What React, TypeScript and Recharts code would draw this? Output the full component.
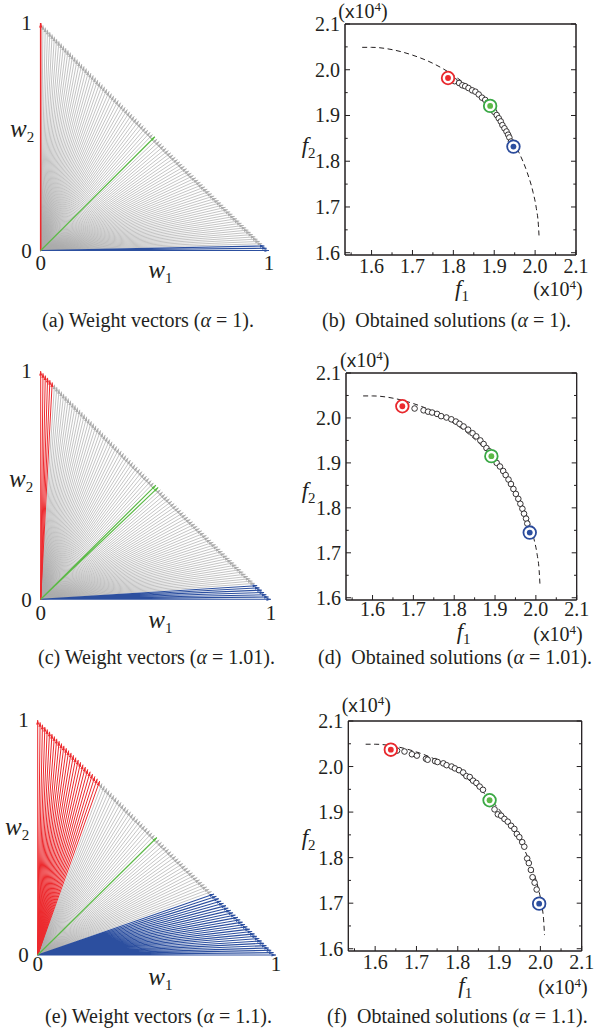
import React from 'react';
import { ComposedChart, Line, Scatter, XAxis, YAxis, ReferenceArea } from 'recharts';

const SERIF = "'Liberation Serif','Times New Roman',Times,serif";
const INK = '#231f20';

// ---------- weight vectors ----------
const W1 = [
  0.0, 0.01, 0.02, 0.03, 0.04, 0.05, 0.06, 0.07, 0.08, 0.09,
  0.1, 0.11, 0.12, 0.13, 0.14, 0.15, 0.16, 0.17, 0.18, 0.19,
  0.2, 0.21, 0.22, 0.23, 0.24, 0.25, 0.26, 0.27, 0.28, 0.29,
  0.3, 0.31, 0.32, 0.33, 0.34, 0.35, 0.36, 0.37, 0.38, 0.39,
  0.4, 0.41, 0.42, 0.43, 0.44, 0.45, 0.46, 0.47, 0.48, 0.49,
  0.5, 0.51, 0.52, 0.53, 0.54, 0.55, 0.56, 0.57, 0.58, 0.59,
  0.6, 0.61, 0.62, 0.63, 0.64, 0.65, 0.66, 0.67, 0.68, 0.69,
  0.7, 0.71, 0.72, 0.73, 0.74, 0.75, 0.76, 0.77, 0.78, 0.79,
  0.8, 0.81, 0.82, 0.83, 0.84, 0.85, 0.86, 0.87, 0.88, 0.89,
  0.9, 0.91, 0.92, 0.93, 0.94, 0.95, 0.96, 0.97, 0.98, 0.99,
  1.0,
];
const ALPHA_LABELS = ['1', '1.01', '1.1'];
const RED_MAX_W1 = [0.0, 0.05, 0.26];
const BLUE_MIN_W1 = [0.98, 0.94, 0.74];
const GREEN_W1 = [[0.5], [0.5, 0.51], [0.5]];
const WV_TICKS = [0, 1];

// ---------- Pareto front (x10^4) ----------
const FRONT_F1 = [1.577, 1.6, 1.65, 1.7, 1.75, 1.8, 1.85, 1.9, 1.93, 1.96, 1.98, 1.995, 2.003, 2.008, 2.01];
const FRONT_F2 = [2.049, 2.049, 2.044, 2.032, 2.014, 1.988, 1.953, 1.906, 1.869, 1.82, 1.777, 1.732, 1.697, 1.661, 1.63];

// obtained solutions
const SOL_B_F1 = [1.795, 1.803, 1.814, 1.822, 1.829, 1.837, 1.846, 1.854, 1.862, 1.87, 1.878, 1.884, 1.895, 1.9, 1.906, 1.911, 1.916, 1.92, 1.925, 1.93, 1.934, 1.937, 1.941];
const SOL_B_F2 = [1.979, 1.975, 1.971, 1.966, 1.964, 1.96, 1.955, 1.952, 1.946, 1.939, 1.934, 1.928, 1.914, 1.908, 1.901, 1.894, 1.887, 1.879, 1.872, 1.865, 1.858, 1.852, 1.843];
const SOL_D_F1 = [1.703, 1.725, 1.736, 1.746, 1.758, 1.768, 1.781, 1.793, 1.804, 1.813, 1.823, 1.834, 1.845, 1.854, 1.864, 1.872, 1.879, 1.886, 1.904, 1.912, 1.92, 1.926, 1.933, 1.939, 1.945, 1.951, 1.957, 1.962, 1.967, 1.971, 1.976, 1.979];
const SOL_D_F2 = [2.021, 2.017, 2.014, 2.012, 2.009, 2.004, 2.001, 1.997, 1.992, 1.987, 1.981, 1.974, 1.966, 1.959, 1.95, 1.942, 1.933, 1.926, 1.9, 1.892, 1.882, 1.873, 1.863, 1.853, 1.842, 1.831, 1.82, 1.809, 1.798, 1.787, 1.776, 1.765];
const SOL_F_F1 = [1.653, 1.671, 1.689, 1.701, 1.723, 1.727, 1.745, 1.751, 1.765, 1.773, 1.785, 1.793, 1.803, 1.813, 1.821, 1.829, 1.837, 1.845, 1.853, 1.861, 1.889, 1.897, 1.905, 1.913, 1.921, 1.929, 1.937, 1.943, 1.949, 1.956, 1.961, 1.968, 1.972, 1.977, 1.981, 1.986, 1.991];
const SOL_F_F2 = [2.035, 2.033, 2.027, 2.024, 2.017, 2.015, 2.012, 2.01, 2.007, 2.003, 2.0, 1.996, 1.992, 1.987, 1.979, 1.977, 1.969, 1.964, 1.956, 1.949, 1.906, 1.895, 1.892, 1.885, 1.879, 1.87, 1.863, 1.852, 1.845, 1.834, 1.824, 1.798, 1.788, 1.773, 1.757, 1.745, 1.73];

// selected solutions: [red, green, blue]
const SEL_B_F1 = [1.787, 1.89, 1.947];
const SEL_B_F2 = [1.982, 1.921, 1.832];
const SEL_D_F1 = [1.673, 1.891, 1.985];
const SEL_D_F2 = [2.026, 1.915, 1.745];
const SEL_F_F1 = [1.638, 1.877, 1.997];
const SEL_F_F2 = [2.037, 1.926, 1.699];

const F1_TICKS = [1.55, 1.6, 1.65, 1.7, 1.75, 1.8, 1.85, 1.9, 1.95, 2.0, 2.05, 2.1];
const F2_TICKS = [1.6, 1.65, 1.7, 1.75, 1.8, 1.85, 1.9, 1.95, 2.0, 2.05, 2.1];
const F1_DOMAIN = [1.535, 2.1];
const F2_DOMAIN = [1.595, 2.1];

const COLORS = { red: '#ec2a2e', green: '#5cb947', blue: '#2c4f9f', gray: '#aaaaaa' };
const RING = { red: '#e8282d', green: '#3aa845', blue: '#2b4b9b' };

// ---------- helpers ----------
const zipXY = (xs: number[], ys: number[]) => xs.map((x, i) => ({ x, y: ys[i] }));

function vectorTable(list: number[]) {
  const rows: any[] = [];
  list.forEach((w) => {
    rows.push({ x: 0, y: 0 });
    rows.push({ x: w, y: +(1 - w).toFixed(2), tip: true });
    rows.push({ x: w, y: null });
  });
  return rows;
}

const isMajor = (v: number) => Math.abs(v * 10 - Math.round(v * 10)) < 1e-6;

type Orient = 'bottom' | 'left' | 'top' | 'right';
function axisTick(orient: Orient, margin: number, labels: boolean, lines: boolean, fontSize: number, decimals: number) {
  return (props: any) => {
    const x = Number(props.x);
    const y = Number(props.y);
    const { payload, index } = props;
    const v = Number(payload.value);
    const major = isMajor(v);
    const len = major ? 5 : 2.7;
    let ax = x;
    let ay = y;
    if (orient === 'bottom') ay = y - margin;
    if (orient === 'top') ay = y + margin;
    if (orient === 'left') ax = x + margin;
    if (orient === 'right') ax = x - margin;
    let d = '';
    if (lines) {
      if (orient === 'bottom') d = `M${ax},${ay}L${ax},${ay - len}`;
      if (orient === 'top') d = `M${ax},${ay}L${ax},${ay + len}`;
      if (orient === 'left') d = `M${ax},${ay}L${ax + len},${ay}`;
      if (orient === 'right') d = `M${ax},${ay}L${ax - len},${ay}`;
    }
    let label = null;
    if (labels && major) {
      const txt = v.toFixed(decimals);
      if (orient === 'bottom')
        label = (
          <text x={x} y={y} dy="0.71em" textAnchor="middle" fontFamily={SERIF} fontSize={fontSize} fill={INK}>
            {txt}
          </text>
        );
      if (orient === 'left')
        label = (
          <text x={x} y={y} dy="0.35em" textAnchor="end" fontFamily={SERIF} fontSize={fontSize} fill={INK}>
            {txt}
          </text>
        );
    }
    return (
      <g key={`t-${orient}-${index}`}>
        {d ? <path d={d} stroke={INK} strokeWidth={1} fill="none" /> : null}
        {label}
      </g>
    );
  };
}

function arrowDot(color: string, len: number, half: number) {
  return (props: any) => {
    const { cx, cy, payload, index } = props;
    if (!payload || !payload.tip || cx == null || cy == null) return <g key={`n${index}`} />;
    const ang = Math.atan2(-payload.y, payload.x);
    const ux = Math.cos(ang);
    const uy = Math.sin(ang);
    const bx = cx - ux * len;
    const by = cy - uy * len;
    const px = -uy;
    const py = ux;
    return (
      <polygon
        key={`a${index}`}
        points={`${cx},${cy} ${bx + px * half},${by + py * half} ${bx - px * half},${by - py * half}`}
        fill={color}
      />
    );
  };
}

// ---------- panels ----------
type WCfg = { top: number; yW: number; xH: number; mTop: number; mRight: number; xTM: number; yTM: number };
const W_CFG: WCfg[] = [
  { top: 0, yW: 40.7, xH: 49.5, mTop: 23, mRight: 31, xTM: 5, yTM: 9 },
  { top: 330, yW: 40.7, xH: 30.7, mTop: 41, mRight: 29, xTM: 6, yTM: 9 },
  { top: 690, yW: 37.7, xH: 35, mTop: 30, mRight: 24, xTM: 1.5, yTM: 9 },
];

function WeightPanel({ k }: { k: number }) {
  const c = W_CFG[k];
  const red = W1.filter((w) => w <= RED_MAX_W1[k] + 1e-9);
  const blue = W1.filter((w) => w >= BLUE_MIN_W1[k] - 1e-9);
  const green = GREEN_W1[k];
  const gray = W1.filter((w) => !red.includes(w) && !blue.includes(w) && !green.includes(w));
  const series = [
    { name: 'gray', data: vectorTable(gray), color: COLORS.gray, w: 0.7 },
    { name: 'blue', data: vectorTable(blue), color: COLORS.blue, w: 1.1 },
    { name: 'red', data: vectorTable(red), color: COLORS.red, w: red.length === 1 ? 1.6 : 1 },
    { name: 'green', data: vectorTable(green), color: COLORS.green, w: 1.2 },
  ];
  return (
    <div style={{ position: 'absolute', left: 0, top: c.top }}>
      <ComposedChart width={300} height={300} margin={{ top: c.mTop, right: c.mRight, left: 0, bottom: 0 }}>
        <XAxis
          type="number"
          dataKey="x"
          domain={[0, 1]}
          ticks={WV_TICKS}
          interval={0}
          axisLine={false}
          tickLine={false}
          tickSize={0}
          tickMargin={c.xTM}
          height={c.xH}
          tick={axisTick('bottom', c.xTM, true, false, 21, 0)}
        />
        <YAxis
          type="number"
          dataKey="y"
          domain={[0, 1]}
          ticks={WV_TICKS}
          interval={0}
          axisLine={false}
          tickLine={false}
          tickSize={0}
          tickMargin={c.yTM}
          width={c.yW}
          tick={axisTick('left', c.yTM, true, false, 21, 0)}
        />
        {series.map((s) => (
          <Line
            key={s.name}
            data={s.data}
            dataKey="y"
            type="linear"
            stroke={s.color}
            strokeWidth={s.w}
            dot={arrowDot(s.color, 4.5, 1.6)}
            activeDot={false}
            connectNulls={false}
            isAnimationActive={false}
          />
        ))}
      </ComposedChart>
    </div>
  );
}

type SCfg = { top: number; yW: number; xH: number; mTop: number; mRight: number; xTM: number };
const S_CFG: SCfg[] = [
  { top: 0, yW: 45, xH: 45, mTop: 24, mRight: 31, xTM: 4 },
  { top: 330, yW: 46, xH: 30, mTop: 43, mRight: 30.3, xTM: 2 },
  { top: 690, yW: 48.3, xH: 39, mTop: 31, mRight: 25.3, xTM: 4 },
];
const SOLS = [
  [SOL_B_F1, SOL_B_F2],
  [SOL_D_F1, SOL_D_F2],
  [SOL_F_F1, SOL_F_F2],
];
const SELS = [
  [SEL_B_F1, SEL_B_F2],
  [SEL_D_F1, SEL_D_F2],
  [SEL_F_F1, SEL_F_F2],
];

const openCircle = (p: any) => <circle cx={p.cx} cy={p.cy} r={2.8} fill="#fff" stroke={INK} strokeWidth={0.9} />;
const ringShape = (ring: string, dot: string) => (p: any) =>
  (
    <g>
      <circle cx={p.cx} cy={p.cy} r={6.3} fill="#fff" stroke={ring} strokeWidth={1.8} />
      <circle cx={p.cx} cy={p.cy} r={2.9} fill={dot} />
    </g>
  );

function SolutionPanel({ k }: { k: number }) {
  const c = S_CFG[k];
  const front = zipXY(FRONT_F1, FRONT_F2);
  const sols = zipXY(SOLS[k][0], SOLS[k][1]);
  const sel = zipXY(SELS[k][0], SELS[k][1]);
  const axisStyle = { stroke: INK, strokeWidth: 1 };
  return (
    <div style={{ position: 'absolute', left: 300, top: c.top }}>
      <ComposedChart width={307} height={300} margin={{ top: c.mTop - 1, right: c.mRight - 1, left: 0, bottom: 0 }}>
        <XAxis
          xAxisId="b"
          type="number"
          dataKey="x"
          domain={F1_DOMAIN}
          allowDataOverflow
          ticks={F1_TICKS}
          interval={0}
          axisLine={axisStyle}
          stroke={INK}
          tickLine={false}
          tickSize={0}
          tickMargin={c.xTM}
          height={c.xH}
          tick={axisTick('bottom', c.xTM, true, true, 20, 1)}
        />
        <XAxis
          xAxisId="t"
          orientation="top"
          type="number"
          domain={F1_DOMAIN}
          allowDataOverflow
          ticks={F1_TICKS}
          interval={0}
          axisLine={axisStyle}
          stroke={INK}
          tickLine={false}
          tickSize={0}
          tickMargin={0}
          height={1}
          tick={axisTick('top', 0, false, true, 20, 1)}
        />
        <YAxis
          yAxisId="l"
          type="number"
          dataKey="y"
          domain={F2_DOMAIN}
          allowDataOverflow
          ticks={F2_TICKS}
          interval={0}
          axisLine={axisStyle}
          stroke={INK}
          tickLine={false}
          tickSize={0}
          tickMargin={5}
          width={c.yW}
          tick={axisTick('left', 5, true, true, 20, 1)}
        />
        <YAxis
          yAxisId="r"
          orientation="right"
          type="number"
          domain={F2_DOMAIN}
          allowDataOverflow
          ticks={F2_TICKS}
          interval={0}
          axisLine={axisStyle}
          stroke={INK}
          tickLine={false}
          tickSize={0}
          tickMargin={0}
          width={1}
          tick={axisTick('right', 0, false, true, 20, 1)}
        />
        <ReferenceArea
          xAxisId="b"
          yAxisId="l"
          x1={F1_DOMAIN[0]}
          x2={F1_DOMAIN[1]}
          y1={F2_DOMAIN[0]}
          y2={F2_DOMAIN[1]}
          fill="none"
          fillOpacity={0}
          stroke={INK}
          strokeWidth={1}
          strokeOpacity={1}
          ifOverflow="visible"
        />
        <Line
          xAxisId="b"
          yAxisId="l"
          data={front}
          dataKey="y"
          type="monotone"
          stroke={INK}
          strokeWidth={1}
          strokeDasharray="5 3.5"
          dot={false}
          activeDot={false}
          isAnimationActive={false}
        />
        <Scatter xAxisId="b" yAxisId="l" data={sols} shape={openCircle} isAnimationActive={false} />
        <Scatter xAxisId="b" yAxisId="l" data={[sel[0]]} shape={ringShape(RING.red, COLORS.red)} isAnimationActive={false} />
        <Scatter xAxisId="b" yAxisId="l" data={[sel[1]]} shape={ringShape(RING.green, COLORS.green)} isAnimationActive={false} />
        <Scatter xAxisId="b" yAxisId="l" data={[sel[2]]} shape={ringShape(RING.blue, COLORS.blue)} isAnimationActive={false} />
      </ComposedChart>
    </div>
  );
}

// ---------- text overlay ----------
const W_LABELS = [
  { w2: [10, 136.7], w1: [148.3, 278.3] },
  { w2: [9, 486.7], w1: [148.3, 628.3] },
  { w2: [5, 835], w1: [148.3, 985] },
];
const F_LABELS = [
  { f2: [301.7, 153.3], f1: [455, 296], xt: [338.3, 17.5], xb: [533.3, 296] },
  { f2: [301.7, 498], f1: [456.7, 639], xt: [340, 367], xb: [533.3, 641] },
  { f2: [301.7, 845], f1: [458.3, 993], xt: [341.7, 712], xb: [538.3, 994] },
];
const CAPTIONS = [
  { l: [42, 327], r: [322, 327] },
  { l: [38, 664], r: [318, 664] },
  { l: [45, 1022.7], r: [327, 1022.7] },
];
const LEFT_LETTERS = ['a', 'c', 'e'];
const RIGHT_LETTERS = ['b', 'd', 'f'];

function VarLabel({ x, y, v, sub, size }: { x: number; y: number; v: string; sub: string; size: number }) {
  return (
    <text x={x} y={y} fontFamily={SERIF} fontSize={size} fill={INK}>
      <tspan fontStyle="italic">{v}</tspan>
      <tspan fontSize={15} dy={5}>
        {sub}
      </tspan>
    </text>
  );
}

function Exp({ x, y }: { x: number; y: number }) {
  return (
    <text x={x} y={y} fontFamily={SERIF} fontSize={20} fill={INK}>
      (<tspan fontFamily="'Liberation Sans', Arial, sans-serif" fontSize={19}>x</tspan>10
      <tspan fontSize={13} dy={-7}>
        4
      </tspan>
      <tspan dy={7}>)</tspan>
    </text>
  );
}

function Overlay() {
  return (
    <svg width={607} height={1033} style={{ position: 'absolute', left: 0, top: 0, pointerEvents: 'none' }}>
      {[0, 1, 2].map((k) => (
        <g key={k}>
          <VarLabel x={W_LABELS[k].w2[0]} y={W_LABELS[k].w2[1]} v="w" sub="2" size={25} />
          <VarLabel x={W_LABELS[k].w1[0]} y={W_LABELS[k].w1[1]} v="w" sub="1" size={25} />
          <VarLabel x={F_LABELS[k].f2[0]} y={F_LABELS[k].f2[1]} v="f" sub="2" size={23} />
          <VarLabel x={F_LABELS[k].f1[0]} y={F_LABELS[k].f1[1]} v="f" sub="1" size={23} />
          <Exp x={F_LABELS[k].xt[0]} y={F_LABELS[k].xt[1]} />
          <Exp x={F_LABELS[k].xb[0]} y={F_LABELS[k].xb[1]} />
          <text x={CAPTIONS[k].l[0]} y={CAPTIONS[k].l[1]} fontFamily={SERIF} fontSize={20} fill={INK} xmlSpace="preserve" style={{ whiteSpace: 'pre' }}>
            {`(${LEFT_LETTERS[k]}) Weight vectors (`}
            <tspan fontStyle="italic">α</tspan>
            {` = ${ALPHA_LABELS[k]}).`}
          </text>
          <text x={CAPTIONS[k].r[0]} y={CAPTIONS[k].r[1]} fontFamily={SERIF} fontSize={20} fill={INK} xmlSpace="preserve" style={{ whiteSpace: 'pre' }}>
            {`(${RIGHT_LETTERS[k]})  Obtained solutions (`}
            <tspan fontStyle="italic">α</tspan>
            {` = ${ALPHA_LABELS[k]}).`}
          </text>
        </g>
      ))}
    </svg>
  );
}

export default function App() {
  return (
    <div style={{ position: 'absolute', left: 0, top: 0, width: 607, height: 1033, background: '#fff', overflow: 'hidden' }}>
      {[0, 1, 2].map((k) => (
        <WeightPanel key={`w${k}`} k={k} />
      ))}
      {[0, 1, 2].map((k) => (
        <SolutionPanel key={`s${k}`} k={k} />
      ))}
      <Overlay />
    </div>
  );
}
